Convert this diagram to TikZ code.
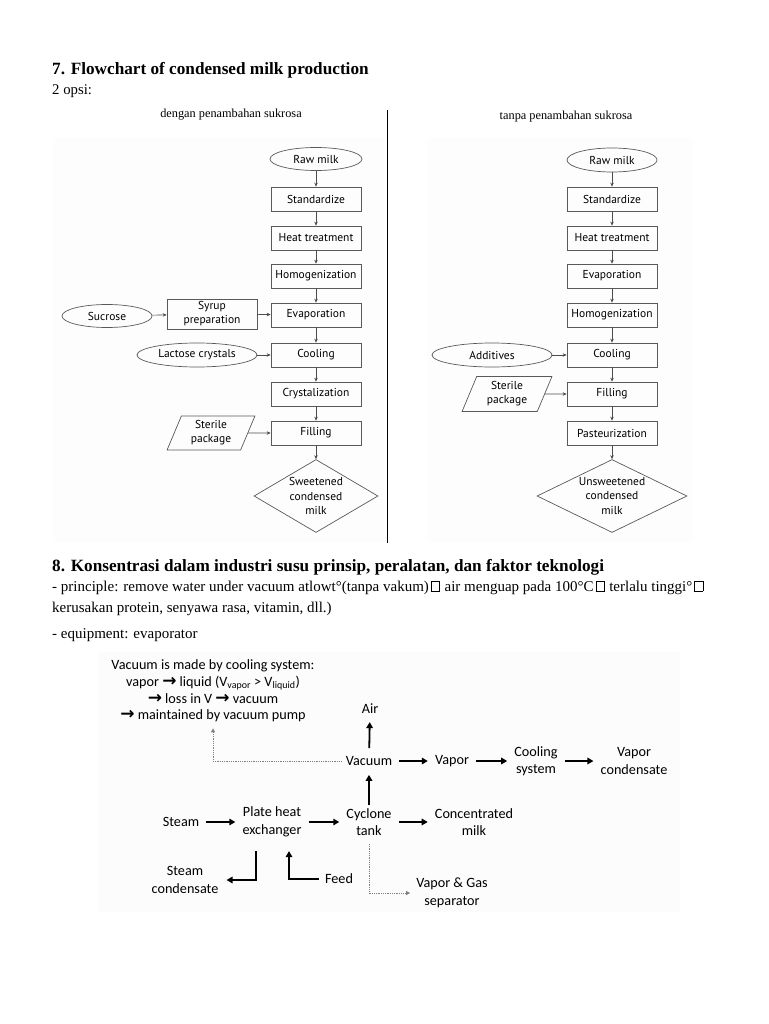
\documentclass[tikz,border=0pt]{standalone}
\usepackage{fontspec}
\setmainfont{Liberation Serif}
\newfontfamily\flowfont{PT Sans}
\newfontfamily\calfont{Carlito}
\newfontfamily\symfont{DejaVu Sans}
\usetikzlibrary{shapes.geometric,arrows.meta,calc}
\newcommand\missbox{{\setlength\fboxsep{0pt}\setlength\fboxrule{0.5pt}\kern2pt\fbox{\rule{0pt}{9.5pt}\hspace{8pt}}\kern1pt}}
\newcommand\bigarr{{\symfont\bfseries\fontsize{17}{16}\selectfont →}}
\begin{document}
\begin{tikzpicture}[x=1pt,y=-1pt,
  txt/.style={inner sep=0pt, anchor=base west},
  fbox/.style={draw=black!65, line width=0.7pt, minimum width=90pt, minimum height=24pt, inner sep=1pt,
    font=\flowfont\fontsize{11.5}{12}\selectfont, align=center},
  fell/.style={fbox, ellipse},
  fpar/.style={fbox, trapezium, trapezium left angle=69, trapezium right angle=111, trapezium stretches=true},
  fdia/.style={draw=black!65, line width=0.7pt, diamond, inner sep=0pt},
  fdtxt/.style={font=\flowfont\fontsize{11.5}{14.5}\selectfont, align=center, inner sep=0pt},
  farr/.style={draw=black!70, line width=0.6pt, -{Stealth[length=4pt,width=3.5pt]}},
  bnode/.style={font=\calfont\fontsize{14.2}{17.5}\selectfont, inner sep=0pt, align=center},
  barr/.style={line width=1.8pt, -{Triangle[length=6pt,width=6.5pt]}},
  dotarr/.style={draw=black!50, densely dotted, line width=0.8pt, -{Triangle[length=4pt,width=4pt]}}
]
\useasboundingbox (0,0) rectangle (768,1024);
\fill[white] (0,0) rectangle (768,1024);
% faint image backgrounds
\fill[black!0.6] (53,138) rectangle (385,542);
\fill[black!0.6] (427,138) rectangle (693,542);
\fill[black!1] (98,652) rectangle (680,912);

% headings
\node[txt, font=\bfseries\fontsize{17.2}{20}\selectfont] (h7) at (52,75) {7. Flowchart of condensed milk production};
\node[txt, font=\fontsize{14.8}{17}\selectfont] (opsi) at (52,95) {2 opsi:};
\node[inner sep=0pt, anchor=base, font=\fontsize{12.3}{13}\selectfont] (lt) at (231,118) {dengan penambahan sukrosa};
\node[inner sep=0pt, anchor=base, font=\fontsize{12.3}{13}\selectfont] (rt) at (566,120) {tanpa penambahan sukrosa};
\draw[line width=1pt] (387,110) -- (387,543);

% left flowchart
\node[fell, minimum width=92pt, minimum height=23pt] (l0) at (316,159) {Raw milk};
\node[fbox] (l1) at (316,199) {Standardize};
\node[fbox] (l2) at (316,238) {Heat treatment};
\node[fbox] (l3) at (316,276) {Homogenization};
\node[fbox] (l4) at (316,315) {Evaporation};
\node[fbox] (l5) at (316,355) {Cooling};
\node[fbox] (l6) at (316,394) {Crystalization};
\node[fbox] (l7) at (316,433) {Filling};
\node[fdia, minimum width=124pt, minimum height=73pt] (l8) at (316,496) {};
\node[fdtxt] (l8t) at (l8) {Sweetened\\condensed\\milk};
\node[fbox, minimum height=30pt, font=\flowfont\fontsize{11.5}{14}\selectfont] (syr) at (212,314) {Syrup\\preparation};
\node[fell, minimum width=90pt, minimum height=23pt] (suc) at (107,316) {Sucrose};
\node[fell, minimum width=120pt, minimum height=24pt] (lac) at (197,355) {Lactose crystals};
\node[fpar, minimum width=88pt, minimum height=34pt, font=\flowfont\fontsize{11.5}{14}\selectfont] (lsp) at (211,433) {Sterile\\package};
\foreach \a/\b in {l0/l1,l1/l2,l2/l3,l3/l4,l4/l5,l5/l6,l6/l7,l7/l8,suc/syr,syr/l4,lac/l5,lsp/l7}
  \draw[farr] (\a) -- (\b);

% right flowchart
\node[fell, minimum width=90pt, minimum height=24pt] (r0) at (612,160) {Raw milk};
\node[fbox] (r1) at (612,199) {Standardize};
\node[fbox] (r2) at (612,238) {Heat treatment};
\node[fbox] (r3) at (612,276) {Evaporation};
\node[fbox] (r4) at (612,315) {Homogenization};
\node[fbox] (r5) at (612,355) {Cooling};
\node[fbox] (r6) at (612,394) {Filling};
\node[fbox] (r7) at (612,433) {Pasteurization};
\node[fdia, minimum width=150pt, minimum height=73pt] (r8) at (612,496) {};
\node[fdtxt] (r8t) at (r8) {Unsweetened\\condensed\\milk};
\node[fell, minimum width=120pt, minimum height=24pt] (add) at (492,355) {Additives};
\node[fpar, minimum width=90pt, minimum height=35pt, font=\flowfont\fontsize{11.5}{14}\selectfont] (rsp) at (507,394) {Sterile\\package};
\foreach \a/\b in {r0/r1,r1/r2,r2/r3,r3/r4,r4/r5,r5/r6,r6/r7,r7/r8,add/r5,rsp/r6}
  \draw[farr] (\a) -- (\b);

% section 8
\node[txt, font=\bfseries\fontsize{17.2}{20}\selectfont] (h8) at (52,571) {8. Konsentrasi dalam industri susu prinsip, peralatan, dan faktor teknologi};
\node[txt, font=\fontsize{15}{17}\selectfont] (p1) at (52,591) {- principle: remove water under vacuum atlowt°(tanpa vakum)\missbox{} air menguap pada 100°C\missbox{} terlalu tinggi°\missbox};
\node[txt, font=\fontsize{15}{17}\selectfont] (p2) at (52,612) {kerusakan protein, senyawa rasa, vitamin, dll.)};
\node[txt, font=\fontsize{15}{17}\selectfont] (p3) at (52,638) {- equipment: evaporator};

% evaporator diagram
\node[bnode, font=\calfont\fontsize{14.2}{16.7}\selectfont] (tb) at (213,691) {Vacuum is made by cooling system:\\
  vapor \bigarr{} liquid (V\textsubscript{vapor} > V\textsubscript{liquid})\\
  \bigarr{} loss in V \bigarr{} vacuum\\
  \bigarr{} maintained by vacuum pump};
\node[bnode] (vac) at (369,761) {Vacuum};
\node[bnode] (air) at (370,709) {Air};
\node[bnode] (vap) at (452,761) {Vapor};
\node[bnode] (cool) at (536,761) {Cooling\\system};
\node[bnode] (vc) at (634,761) {Vapor\\condensate};
\node[bnode] (steam) at (181,822) {Steam};
\node[bnode] (phe) at (272,822) {Plate heat\\exchanger};
\node[bnode] (cyc) at (369,822) {Cyclone\\tank};
\node[bnode] (cm) at (474,822) {Concentrated\\milk};
\node[bnode] (sc) at (185,880) {Steam\\condensate};
\node[bnode] (feed) at (339,879) {Feed};
\node[bnode] (vg) at (452,893) {Vapor \& Gas\\separator};

\draw[barr, shorten <=8pt, shorten >=8pt] (vac) -- (air);
\draw[barr, shorten <=7pt, shorten >=7pt] (vac) -- (vap);
\draw[barr, shorten <=7pt, shorten >=7pt] (vap) -- (cool);
\draw[barr, shorten <=7pt, shorten >=7pt] (cool) -- (vc);
\draw[barr, shorten <=7pt, shorten >=7pt] (steam) -- (phe);
\draw[barr, shorten <=7pt, shorten >=7pt] (phe) -- (cyc);
\draw[barr, shorten <=7pt, shorten >=7pt] (cyc) -- (cm);
\draw[barr, shorten <=3pt, shorten >=9pt] (cyc) -- (vac);
\draw[barr] ($(phe.south)+(-16,14)$) |- ($(sc.east)+(8,0)$);
\draw[barr] ($(feed.west)+(-6,0)$) -| ($(phe.south)+(17,14)$);
\draw[dotarr] ($(cyc.south)+(0,8)$) |- ($(vg.west)+(-6,0)$);
\draw[dotarr] ($(vac.west)+(-4,0)$) -| ($(tb.south)+(0,6)$);
\end{tikzpicture}
\end{document}
